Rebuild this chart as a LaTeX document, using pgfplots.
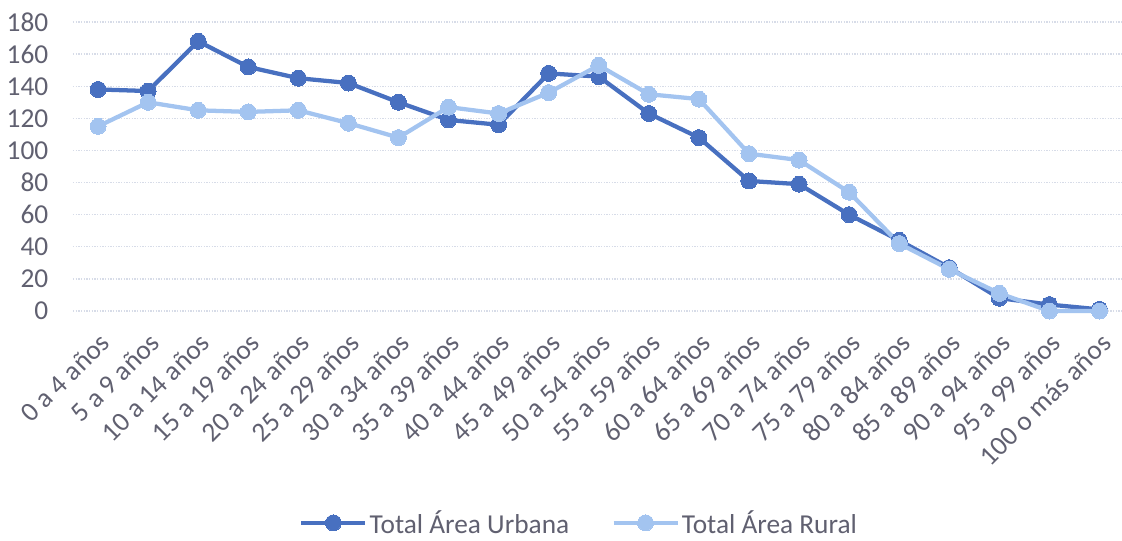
\documentclass[border=0pt]{standalone}
\usepackage{fontspec}
\setmainfont{Carlito}
\usepackage{pgfplots}
\pgfplotsset{compat=1.18}

\definecolor{urbana}{RGB}{72,112,192}
\definecolor{rural}{RGB}{163,196,240}
\definecolor{txt}{RGB}{96,96,112}
\definecolor{gridc}{RGB}{215,220,232}

\pgfplotstableread{
x urbana rural
0  138 115
1  137 130
2  168 125
3  152 124
4  145 125
5  142 117
6  130 108
7  119 127
8  116 123
9  148 136
10 146 153
11 123 135
12 108 132
13 81  98
14 79  94
15 60  74
16 44  42
17 27  26
18 8   11
19 4   0
20 1   0
}\datos

\begin{document}
\begin{tikzpicture}[x=1pt,y=1pt]
\begin{axis}[
    name=ax,
    scale only axis,
    width=786.75pt,
    height=216.75pt,
    xmin=-0.5, xmax=20.45,
    ymin=0, ymax=180,
    ytick={0,20,...,180},
    xtick={0,...,20},
    xticklabels={0 a 4 años,5 a 9 años,10 a 14 años,15 a 19 años,20 a 24 años,25 a 29 años,30 a 34 años,35 a 39 años,40 a 44 años,45 a 49 años,50 a 54 años,55 a 59 años,60 a 64 años,65 a 69 años,70 a 74 años,75 a 79 años,80 a 84 años,85 a 89 años,90 a 94 años,95 a 99 años,100 o más años},
    axis line style={draw=none},
    major tick length=0pt,
    xmajorgrids=false,
    ymajorgrids=true,
    grid style={draw=gridc, line width=1pt, densely dotted},
    tick label style={font=\fontsize{20.5}{24}\selectfont, text=txt},
    /pgf/number format/assume math mode=true,
    yticklabel style={xshift=-15pt},
    xticklabel style={rotate=45, anchor=north east, inner sep=1pt},
    xticklabel shift=14pt,
    clip=false,
    legend columns=2,
    legend style={draw=none, fill=none, at={(0.483,-0.733)}, anchor=center,
        font=\fontsize{20.5}{24}\selectfont, text=txt,
        /tikz/every even column/.append style={column sep=30pt}},
    legend image code/.code={\draw[mark repeat=2,mark phase=2,#1,line width=2.5pt]
        plot coordinates {(0pt,0pt) (24pt,0pt) (48pt,0pt)};},
]
\addplot[color=urbana, line width=3.2pt, mark=*, mark size=6pt,
    mark options={fill=urbana, draw=urbana, line width=0pt}]
    table[x=x, y=urbana] {\datos};
\addlegendentry{Total Área Urbana}
\addplot[color=rural, line width=3.2pt, mark=*, mark size=6pt,
    mark options={fill=rural, draw=rural, line width=0pt}]
    table[x=x, y=rural] {\datos};
\addlegendentry{Total Área Rural}
\end{axis}
\pgfresetboundingbox
\path ([xshift=-54.75pt, yshift=-171.75pt]ax.south west) rectangle ([yshift=16.5pt]ax.north east);
\end{tikzpicture}
\end{document}
